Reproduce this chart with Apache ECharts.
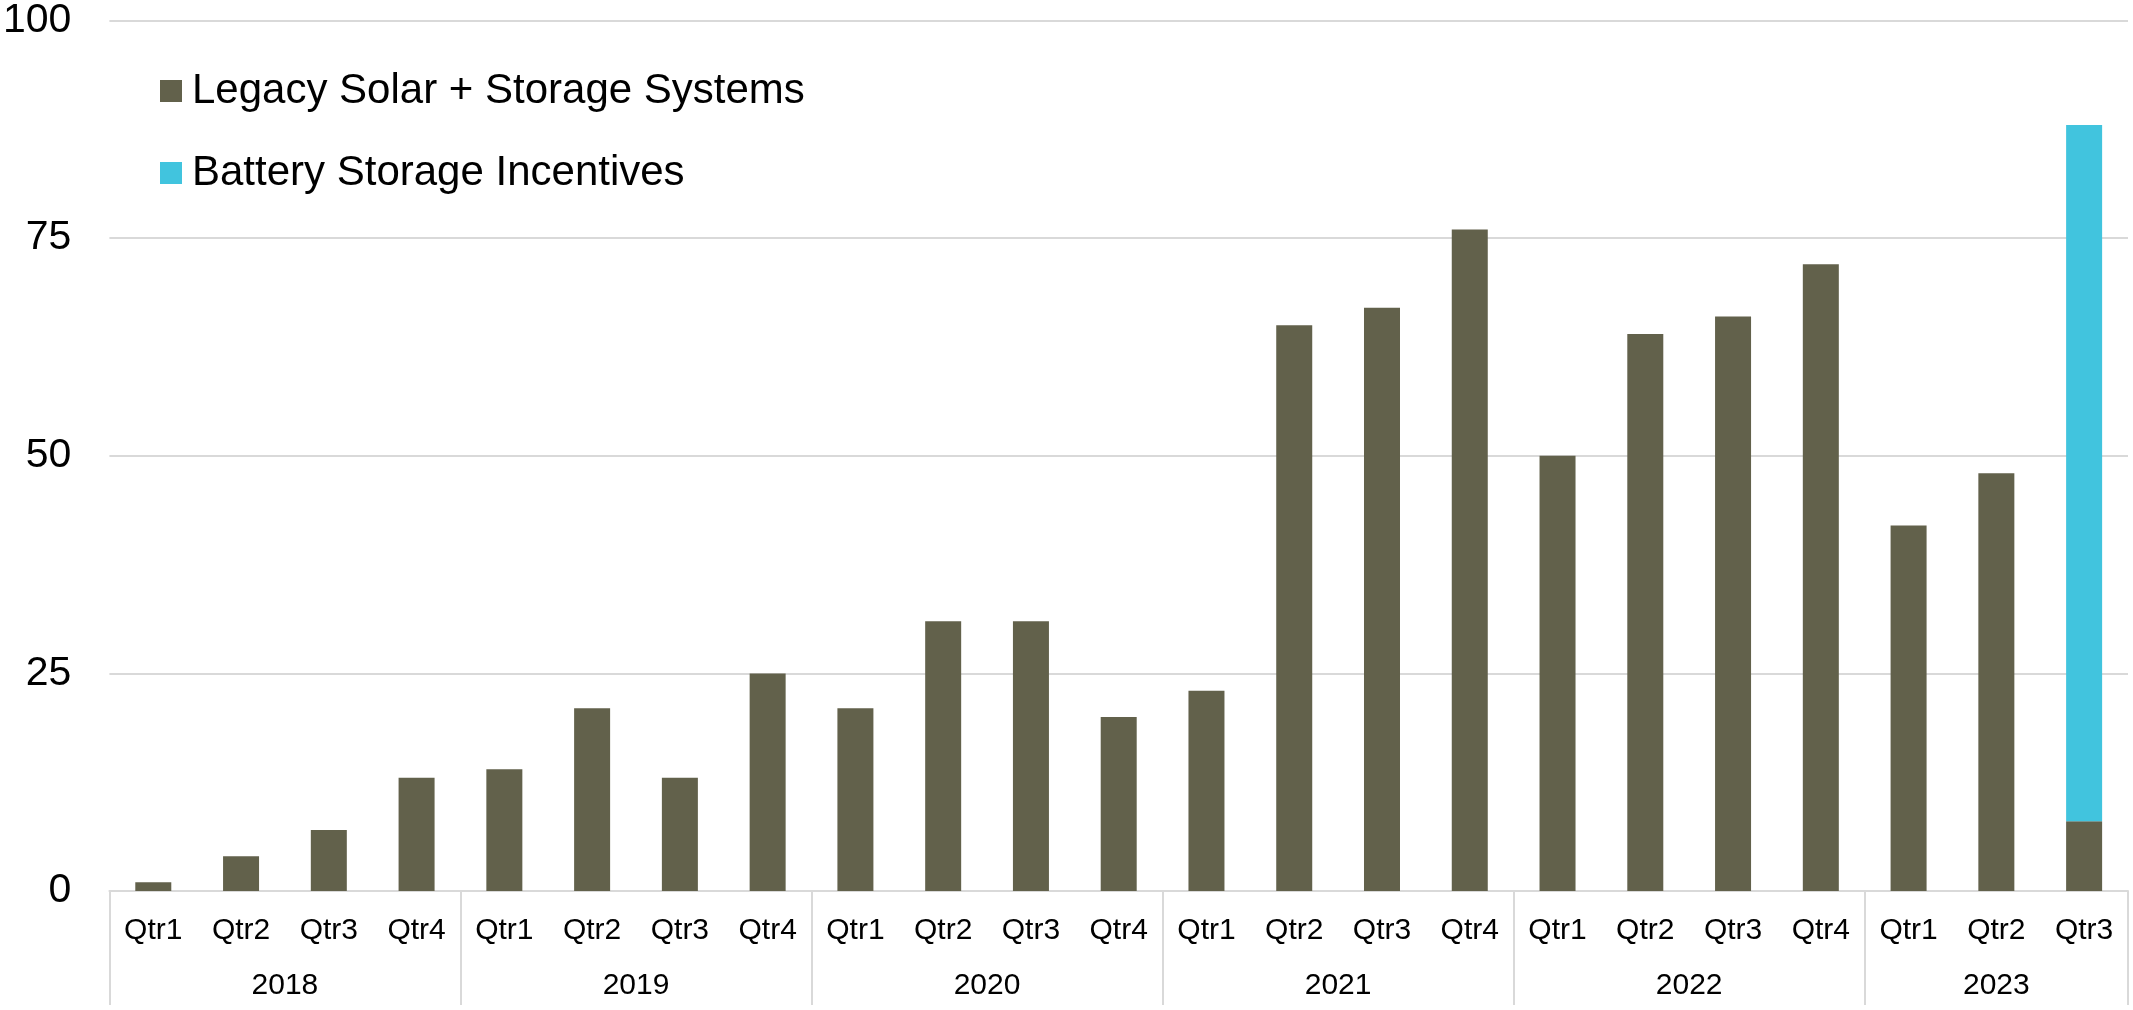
<!DOCTYPE html>
<html>
<head>
<meta charset="utf-8">
<script src="https://cdn.jsdelivr.net/npm/echarts@6/dist/echarts.min.js"></script>
<style>
  html, body { margin: 0; padding: 0; background: #fff; }
  #chart { width: 2133px; height: 1010px; }
</style>
</head>
<body>
<div id="chart"></div>
<script>
// quarters, grouped by year
const quarters = [
  "Qtr1", "Qtr2", "Qtr3", "Qtr4",
  "Qtr1", "Qtr2", "Qtr3", "Qtr4",
  "Qtr1", "Qtr2", "Qtr3", "Qtr4",
  "Qtr1", "Qtr2", "Qtr3", "Qtr4",
  "Qtr1", "Qtr2", "Qtr3", "Qtr4",
  "Qtr1", "Qtr2", "Qtr3",
];
const years = ["2018", "2019", "2020", "2021", "2022", "2023"];
const quartersPerYear = [4, 4, 4, 4, 4, 3];

const legacyValues = [
  1, 4, 7, 13,
  14, 21, 13, 25,
  21, 31, 31, 20,
  23, 65, 67, 76,
  50, 64, 66, 72,
  42, 48, 8,
];
const batteryValues = [
  "-", "-", "-", "-",
  "-", "-", "-", "-",
  "-", "-", "-", "-",
  "-", "-", "-", "-",
  "-", "-", "-", "-",
  "-", "-", 80,
];

const FONT = "Liberation Sans, Arial, sans-serif";
const GRID = "#D9D9D9";

// second axis in half-quarter steps so year names sit in the middle of their group
const halfSteps = [];
const yearAt = {};
const dividerAt = {};
let pos = 0;
dividerAt[0] = true;
quartersPerYear.forEach((n, i) => {
  yearAt[pos + n] = years[i]; // centre of group, in half steps
  pos += n * 2;
  dividerAt[pos] = true;
});
for (let k = 0; k <= pos; k++) {
  halfSteps.push(yearAt[k] || "");
}

const chart = echarts.init(document.getElementById("chart"));
chart.setOption({
  animation: false,
  textStyle: { fontFamily: FONT },
  grid: {
    left: 109,
    right: 5,
    top: 19,
    bottom: 119,
  },
  legend: {
    orient: "vertical",
    left: 160,
    top: 70,
    padding: 0,
    itemWidth: 22,
    itemHeight: 22,
    itemGap: 40,
    icon: "rect",
    textStyle: {
      fontFamily: FONT,
      fontSize: 42,
      color: "#000",
      lineHeight: 42,
      padding: [0, 0, 0, 5],
    },
    data: ["Legacy Solar + Storage Systems", "Battery Storage Incentives"],
  },
  xAxis: [
    {
      type: "category",
      data: quarters,
      axisLine: { show: true, lineStyle: { color: GRID, width: 2 } },
      axisTick: { show: false },
      axisLabel: {
        interval: 0,
        margin: 25,
        fontSize: 30,
        color: "#000",
        fontFamily: FONT,
      },
    },
    {
      type: "category",
      position: "bottom",
      boundaryGap: false,
      data: halfSteps,
      axisLine: { show: false },
      axisTick: {
        show: true,
        length: 114,
        interval: (idx) => !!dividerAt[idx],
        lineStyle: { color: GRID, width: 2 },
      },
      axisLabel: {
        interval: (idx) => !!yearAt[idx],
        margin: 80,
        fontSize: 30,
        color: "#000",
        fontFamily: FONT,
      },
      splitLine: { show: false },
    },
  ],
  yAxis: {
    type: "value",
    min: 0,
    max: 100,
    interval: 25,
    axisLine: { show: false },
    axisTick: { show: false },
    axisLabel: {
      margin: 38,
      fontSize: 41,
      color: "#000",
      fontFamily: FONT,
    },
    splitLine: { lineStyle: { color: GRID, width: 2 } },
  },
  series: [
    {
      name: "Legacy Solar + Storage Systems",
      type: "bar",
      stack: "total",
      barWidth: 36,
      itemStyle: { color: "#62614B" },
      data: legacyValues,
    },
    {
      name: "Battery Storage Incentives",
      type: "bar",
      stack: "total",
      barWidth: 36,
      itemStyle: { color: "#41C4DE" },
      data: batteryValues,
    },
  ],
});
</script>
</body>
</html>
